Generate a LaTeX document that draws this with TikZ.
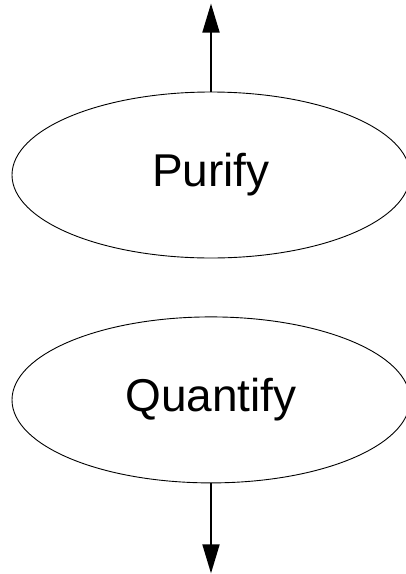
\documentclass[tikz,border=0pt]{standalone}
\usepackage{fontspec}
\setmainfont{Liberation Sans}
\usetikzlibrary{shapes.geometric,arrows.meta,positioning}

\begin{document}
\begin{tikzpicture}[
    x=1pt, y=1pt,
    stepbox/.style={ellipse, draw=black, line width=0.9pt, inner sep=0pt, minimum width=398pt, minimum height=166pt, font=\fontsize{46}{50}\selectfont},
    arr/.style={-{Triangle[length=29pt,width=17pt]}, line width=1.8pt},
    node distance=58pt
]
    \useasboundingbox (0,0) rectangle (406,-574);

    % the two steps
    \node[stepbox] (purify) at (211,-175) {Purify};
    \node[stepbox, below=of purify] (quantify) {Quantify};

    % free ends of the arrows
    \coordinate[above=88pt of purify.north] (intop);
    \coordinate[below=90pt of quantify.south] (outbot);

    \draw[arr] (purify.north) -- (intop);
    \draw[arr] (quantify.south) -- (outbot);

\end{tikzpicture}
\end{document}
